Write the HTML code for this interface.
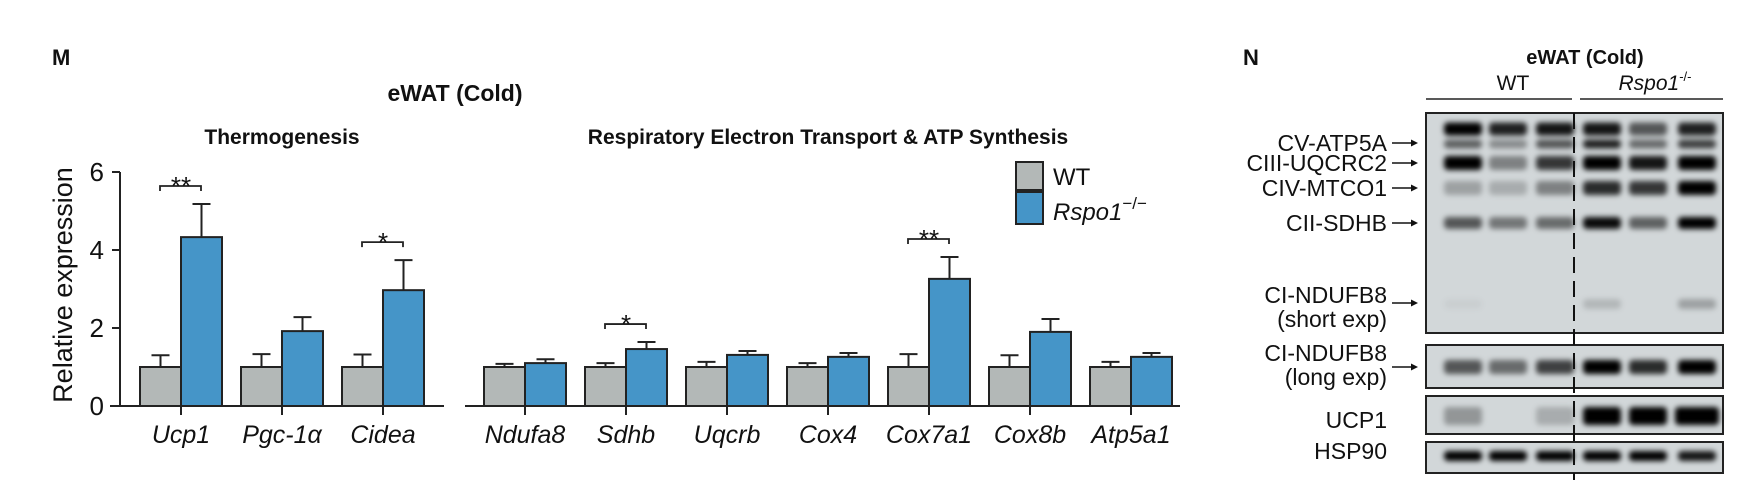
<!DOCTYPE html>
<html><head><meta charset="utf-8"><style>
html,body{margin:0;padding:0;background:#fff;}
svg{display:block;font-family:"Liberation Sans",Arial,sans-serif;}
</style></head><body>
<svg id="fig" width="1763" height="486" viewBox="0 0 1763 486" xmlns="http://www.w3.org/2000/svg">
<defs>
<filter id="blur" x="-50%" y="-200%" width="200%" height="500%"><feGaussianBlur stdDeviation="2.6"/></filter>
</defs>
<text x="52" y="65" font-size="22" font-weight="bold" fill="#111">M</text>
<text x="455" y="101" font-size="23" font-weight="bold" text-anchor="middle" fill="#111">eWAT (Cold)</text>
<text x="282" y="144" font-size="21" font-weight="bold" text-anchor="middle" fill="#111">Thermogenesis</text>
<text x="828" y="144" font-size="21" font-weight="bold" text-anchor="middle" fill="#111">Respiratory Electron Transport &amp; ATP Synthesis</text>
<text transform="translate(72,285) rotate(-90)" font-size="27" text-anchor="middle" fill="#111">Relative expression</text>
<g id="chart"></g>
<g>
<rect x="1016" y="162" width="27" height="28" fill="#b3b8b7" stroke="#222" stroke-width="2"/>
<rect x="1016" y="192" width="27" height="32" fill="#4595c8" stroke="#222" stroke-width="2"/>
<text x="1053" y="185" font-size="24" fill="#111">WT</text>
<text x="1053" y="220" font-size="24" font-style="italic" fill="#111">Rspo1<tspan dy="-11" font-size="17" font-style="normal">−/−</tspan></text>
</g>
<text x="1243" y="65" font-size="22" font-weight="bold" fill="#111">N</text>
<text x="1585" y="64" font-size="20" font-weight="bold" text-anchor="middle" fill="#111">eWAT (Cold)</text>
<text x="1513" y="90" font-size="21" text-anchor="middle" fill="#111">WT</text>
<text x="1655" y="90" font-size="21" font-style="italic" text-anchor="middle" fill="#111">Rspo1<tspan dy="-9" font-size="13" font-style="normal">-/-</tspan></text>
<line x1="1426" y1="99" x2="1572" y2="99" stroke="#222" stroke-width="1.5"/>
<line x1="1580" y1="99" x2="1723" y2="99" stroke="#222" stroke-width="1.5"/>
<g id="blot"></g>
</svg>
<script>
const NS="http://www.w3.org/2000/svg";
// ---- chart data ----
const categoriesLeft=["Ucp1","Pgc-1α","Cidea"];
const wtLeft=[1,1,1];
const wtErrLeft=[0.3,0.33,0.32];
const koLeft=[4.33,1.92,2.97];
const koErrLeft=[0.85,0.36,0.77];
const sigLeft=["**","","*"];
const categoriesRight=["Ndufa8","Sdhb","Uqcrb","Cox4","Cox7a1","Cox8b","Atp5a1"];
const wtRight=[1,1,1,1,1,1,1];
const wtErrRight=[0.08,0.1,0.13,0.1,0.33,0.3,0.13];
const koRight=[1.1,1.46,1.31,1.26,3.26,1.9,1.26];
const koErrRight=[0.1,0.18,0.1,0.1,0.56,0.33,0.1];
const sigRight=["","*","","","**","",""];
const yTicks=[0,2,4,6];

const y0=406, pxPerUnit=39;
function yScale(v){return y0-v*pxPerUnit;}
function xLeft(i){return 181+i*101;}
function xRight(i){return 525+i*101;}
const chart=document.getElementById('chart');
function mk(tag,attrs,parent){const e=document.createElementNS(NS,tag);for(const k in attrs)e.setAttribute(k,attrs[k]);(parent||chart).appendChild(e);return e;}

let ax=mk('line',{x1:120,y1:yScale(6),x2:120,y2:y0,stroke:'#222','stroke-width':2});


yTicks.forEach(t=>{
  const tk=mk('line',{x1:112,y1:yScale(t),x2:120,y2:yScale(t),stroke:'#222','stroke-width':2});
  
  
  const tl=mk('text',{x:104,y:yScale(t)+9,'font-size':26,'text-anchor':'end',fill:'#111'});
  tl.textContent=t;
  
  
});
let b1=mk('line',{x1:110,y1:y0,x2:444,y2:y0,stroke:'#222','stroke-width':2});


let b2=mk('line',{x1:465,y1:y0,x2:1180,y2:y0,stroke:'#222','stroke-width':2});



function drawGroup(cats,wt,wtE,ko,koE,sig,xf){
  const w=41;
  cats.forEach((c,i)=>{
    const cx=xf(i);
    [[wt[i],wtE[i],cx-w,'#b3b8b7','wt'],[ko[i],koE[i],cx,'#4595c8','ko']].forEach(([v,e,x,col,nm])=>{
      const top=yScale(v+e);
      const el=mk('line',{x1:x+w/2,y1:yScale(v),x2:x+w/2,y2:top,stroke:'#222','stroke-width':2});
      
      
      const cap=mk('line',{x1:x+w/2-9,y1:top,x2:x+w/2+9,y2:top,stroke:'#222','stroke-width':2});
      
      
      const r=mk('rect',{x:x,y:yScale(v),width:w,height:y0-yScale(v),fill:col,stroke:'#222','stroke-width':2});
      
      
    });
    const t=mk('line',{x1:cx,y1:y0,x2:cx,y2:y0+9,stroke:'#222','stroke-width':2});
    
    
    const lb=mk('text',{x:cx,y:y0+37,'font-size':25,'font-style':'italic','text-anchor':'middle',fill:'#111'});
    lb.textContent=c;
    
    
    if(sig[i]){
      const by=yScale(Math.max(wt[i]+wtE[i],ko[i]+koE[i]))-18;
      const br=mk('path',{d:`M${cx-21},${by+5} V${by} H${cx+20} V${by+5}`,fill:'none',stroke:'#222','stroke-width':1.8});
      
      
      const st=mk('text',{x:cx,y:by+9,'font-size':26,'text-anchor':'middle',fill:'#111'});
      st.textContent=sig[i];
      
      
    }
  });
}
drawGroup(categoriesLeft,wtLeft,wtErrLeft,koLeft,koErrLeft,sigLeft,xLeft);
drawGroup(categoriesRight,wtRight,wtErrRight,koRight,koErrRight,sigRight,xRight);

// ---- western blot ----
const blot=document.getElementById('blot');
const laneX=[1463,1508,1555,1602,1648,1697];
const boxes=[[113,333],[345,388],[396,434],[442,473]];
const bandRows=[
 [129,13,[1,0.85,0.9,0.9,0.6,0.85]],
 [144,9,[0.55,0.35,0.6,0.85,0.5,0.7]],
 [163,14,[1,0.4,0.75,1,0.9,1]],
 [188,14,[0.25,0.2,0.4,0.8,0.75,1]],
 [223,12,[0.6,0.45,0.5,0.95,0.55,1]],
 [304,10,[0.04,0,0,0.15,0,0.25]],
 [367,14,[0.6,0.5,0.7,1,0.8,1]],
 [416,18,[0.3,0,0.2,1,1,1]],
 [456,10,[1,1,1,1,1,0.9]]
];
const blotLabels=[["CV-ATP5A",143],["CIII-UQCRC2",163],["CIV-MTCO1",188],["CII-SDHB",223],["CI-NDUFB8",295],["(short exp)",319],["CI-NDUFB8",353],["(long exp)",377],["UCP1",420],["HSP90",451]];
const arrowY=[143,163,188,223,303,367];
boxes.forEach(([a,b])=>{
  const r=mk('rect',{x:1426,y:a,width:297,height:b-a,fill:'#d2d7d9',stroke:'#222','stroke-width':2},blot);
  
  
});
const bg=mk('g',{filter:'url(#blur)'},blot);


bandRows.forEach(([y,h,ints])=>{
  ints.forEach((v,i)=>{
    if(v<=0)return;
    const w=(i==5&&y==416)?44:38;
    const r=mk('rect',{x:laneX[i]-w/2,y:y-h/2,width:w,height:h,rx:4,fill:'#050505','fill-opacity':v},bg);
    
    
  });
});
const dl=mk('line',{x1:1574,y1:113,x2:1574,y2:480,stroke:'#111','stroke-width':2,'stroke-dasharray':'16,8'},blot);


blotLabels.forEach(([t,y])=>{
  const e=mk('text',{x:1387,y:y+8,'font-size':23,'text-anchor':'end',fill:'#111'},blot);
  e.textContent=t;
  
  
});
arrowY.forEach(y=>{
  const a=mk('line',{x1:1392,y1:y,x2:1412,y2:y,stroke:'#111','stroke-width':1.5},blot);
  
  
  const h=mk('path',{d:`M1411,${y-3.5} L1418,${y} L1411,${y+3.5}Z`,fill:'#111'},blot);
  
  
});
</script>
</body></html>
